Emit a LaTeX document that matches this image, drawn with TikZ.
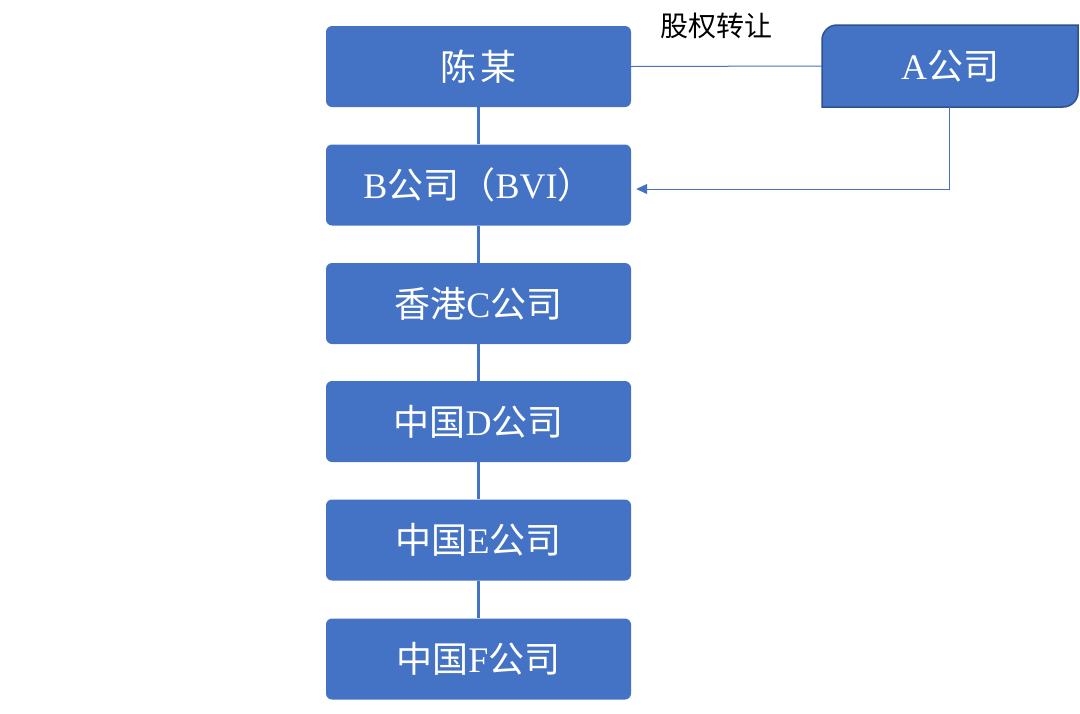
\documentclass[tikz,border=0pt]{standalone}
\usepackage{fontspec}
\setmainfont{Liberation Serif}
\newfontfamily\cjk{Noto Sans CJK SC}
\usetikzlibrary{arrows.meta}
\definecolor{boxblue}{HTML}{4472C4}
\definecolor{boxedge}{HTML}{2F528F}
\tikzset{
  x=1pt, y=-1pt,
  cobox/.style={fill=boxblue, draw=none, rounded corners=6pt, minimum width=305pt, minimum height=81pt, inner sep=0pt, text=white, font=\fontsize{36}{40}\selectfont},
  vlink/.style={draw=boxblue, line width=2.5pt},
  thin link/.style={draw=boxblue, line width=1pt},
}
\begin{document}
\begin{tikzpicture}
\useasboundingbox (0,0) rectangle (1080,713);
\node[cobox] (chen) at (478.5,66.5) {{\cjk 陈\hspace{4pt}某}};
\node[cobox] (B) at (478.5,185) {B{\cjk 公司（}BVI{\cjk ）}};
\node[cobox] (C) at (478.5,303.5) {{\cjk 香港}C{\cjk 公司}};
\node[cobox] (D) at (478.5,421.5) {{\cjk 中国}D{\cjk 公司}};
\node[cobox] (E) at (478.5,540) {{\cjk 中国}E{\cjk 公司}};
\node[cobox] (F) at (478.5,659) {{\cjk 中国}F{\cjk 公司}};
% A company shape
\filldraw[fill=boxblue, draw=boxedge, line width=1.5pt]
  (822,107) -- (822,40) .. controls (822,31.7) and (828.7,25) .. (837,25) -- (1078,25)
  -- (1078,92) .. controls (1078,100.3) and (1071.3,107) .. (1063,107) -- cycle;
\node[minimum width=256pt, minimum height=82pt, inner sep=0pt, text=white, font=\fontsize{36}{40}\selectfont] (A) at (950,66) {A{\cjk 公司}};
\node[font=\fontsize{28}{32}\selectfont\cjk, text=black] (lbl) at (716,26) {股权转让};
% connectors
\draw[vlink] (chen) -- (B);
\draw[vlink] (B) -- (C);
\draw[vlink] (C) -- (D);
\draw[vlink] (D) -- (E);
\draw[vlink] (E) -- (F);
\draw[thin link] (chen.east) -- (A.west);
\draw[thin link, -{Triangle[length=11pt,width=10pt]}] ([xshift=-1pt]A.south) |- ([xshift=5pt,yshift=-4pt]B.east);
\end{tikzpicture}
\end{document}
